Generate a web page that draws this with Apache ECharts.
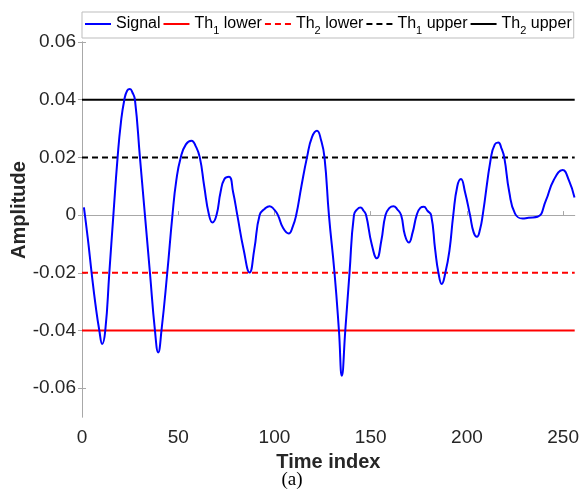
<!DOCTYPE html>
<html>
<head>
<meta charset="utf-8">
<script src="https://cdn.jsdelivr.net/npm/echarts@6/dist/echarts.min.js"></script>
<style>
  html, body { margin: 0; padding: 0; background: #fff; }
  #chart { width: 582px; height: 504px; }
</style>
</head>
<body>
<div id="chart"></div>
<script>
// Signal samples: [time index, amplitude]
const signalPoints = [
  [1, 0.0027], [3, -0.008], [5, -0.020], [7, -0.031], [9, -0.040], [10.5, -0.0447],
  [12.1, -0.040], [14.2, -0.020], [16.3, 0], [18.5, 0.020], [20.2, 0.032], [22, 0.040],
  [23.5, 0.0432], [24.9, 0.0437], [26.2, 0.0425], [27.5, 0.040], [30.1, 0.020], [32.7, 0],
  [35.3, -0.020], [37.9, -0.040], [39.6, -0.0476], [41.3, -0.040], [44.3, -0.020], [47.0, 0],
  [49, 0.012], [51.3, 0.020], [54, 0.0245], [56.9, 0.0258], [59, 0.024], [61.2, 0.020],
  [63.5, 0.010], [66, 0], [67.8, -0.0026], [69.9, 0], [72, 0.008], [74, 0.0125],
  [76.4, 0.0133], [78.5, 0.008], [80.7, 0], [84, -0.012], [87.1, -0.0199], [89.5, -0.012],
  [92.3, 0], [95, 0.0022], [97.5, 0.0031], [100, 0.0018], [101.8, 0], [104.5, -0.0045],
  [107.4, -0.0064], [109.5, -0.004], [111.3, 0], [114, 0.010], [116.9, 0.020], [119.5, 0.027],
  [122.1, 0.0292], [124.2, 0.026], [126.0, 0.020], [128.3, 0], [131.2, -0.020], [133.5, -0.040],
  [135.0, -0.0557], [136.8, -0.040], [139.0, -0.020], [141.3, 0], [143, 0.002], [144.7, 0.0026],
  [146.3, 0.0015], [147.6, 0], [150.5, -0.010], [153.2, -0.015], [155.5, -0.009], [157.7, 0],
  [159.8, 0.0025], [161.8, 0.0031], [163.8, 0.002], [165.8, 0], [167.8, -0.007], [169.8, -0.0095],
  [171.8, -0.006], [173.9, 0], [175.8, 0.0025], [177.6, 0.0029], [179.5, 0.0015], [181.4, 0],
  [183.5, -0.012], [185.2, -0.020], [186.9, -0.0239], [188.8, -0.020], [190.9, -0.0124], [192.9, 0],
  [195, 0.010], [196.9, 0.0125], [199, 0.008], [201.6, 0], [203.5, -0.006], [205.2, -0.0075],
  [206.8, -0.005], [208.2, 0], [212.5, 0.020], [214.5, 0.0245], [216.3, 0.0252], [218, 0.023],
  [219.4, 0.020], [222, 0.008], [225, 0.0005], [228.9, -0.0012], [232, -0.0009], [236.7, -0.0006],
  [241, 0.005], [245, 0.012], [249.7, 0.0156], [253, 0.012], [255.9, 0.0061]
];

// Threshold levels
const th1Lower = -0.02;
const th2Lower = -0.04;
const th1Upper = 0.02;
const th2Upper = 0.04;

// Axis ranges and ticks
const xRange = [0, 256];
const yRange = [-0.07, 0.06];
const xTicks = [0, 50, 100, 150, 200, 250];
const yTicks = [-0.06, -0.04, -0.02, 0, 0.02, 0.04, 0.06];

const seriesNames = ['Signal', 'Th1 lower', 'Th2 lower', 'Th1 upper', 'Th2 upper'];

const FONT = 'Liberation Sans, Arial, sans-serif';
const AXIS_GRAY = '#a8a8a8';
const TEXT = '#262626';

function hLine(level) {
  return [[xRange[0], level], [xRange[1], level]];
}

function thresholdSeries(name, level, color, dashed) {
  return {
    name: name,
    type: 'line',
    data: hLine(level),
    symbol: 'none',
    silent: true,
    lineStyle: { color: color, width: 2, type: dashed ? [6, 4] : 'solid' },
    itemStyle: { color: color },
    z: 2
  };
}

const chart = echarts.init(document.getElementById('chart'), null, { renderer: 'canvas' });

chart.setOption({
  animation: false,
  backgroundColor: '#ffffff',
  grid: { left: 82, right: 6, top: 42, bottom: 87, containLabel: false },
  legend: {
    data: seriesNames,
    left: 82,
    top: 12,
    orient: 'horizontal',
    itemWidth: 26,
    itemHeight: 14,
    itemGap: 2,
    padding: [4, 2, 2, 2],
    borderColor: '#bdbdbd',
    borderWidth: 1,
    backgroundColor: '#ffffff',
    selectedMode: false,
    itemStyle: { opacity: 0 },
    formatter: function (name) {
      const m = name.match(/^Th(\d) (.*)$/);
      if (!m) return '{n|' + name + '}';
      return '{n|Th}{s|' + m[1] + '}{n| ' + m[2] + '}';
    },
    textStyle: {
      fontFamily: FONT,
      fontSize: 16,
      color: '#000',
      rich: {
        n: { fontFamily: FONT, fontSize: 16, color: '#000', lineHeight: 24, verticalAlign: 'middle' },
        s: { fontFamily: FONT, fontSize: 11, color: '#000', lineHeight: 24, verticalAlign: 'bottom' }
      }
    }
  },
  xAxis: [{
    type: 'value',
    min: xRange[0],
    max: xRange[1],
    name: 'Time index',
    nameLocation: 'middle',
    nameGap: 35,
    nameTextStyle: { fontFamily: FONT, fontSize: 20, fontWeight: 'bold', color: TEXT },
    axisLine: { show: true, lineStyle: { color: AXIS_GRAY, width: 1 } },
    axisTick: { show: true, inside: true, length: 4, lineStyle: { color: AXIS_GRAY }, customValues: xTicks },
    axisLabel: { fontFamily: FONT, fontSize: 19, color: TEXT, margin: 11, customValues: xTicks },
    splitLine: { show: false }
  }, {
    type: 'value',
    position: 'top',
    min: xRange[0],
    max: xRange[1],
    axisLine: { show: true, lineStyle: { color: AXIS_GRAY, width: 1 } },
    axisTick: { show: false },
    axisLabel: { show: false },
    splitLine: { show: false }
  }],
  yAxis: [{
    type: 'value',
    min: yRange[0],
    max: yRange[1],
    axisLine: { show: true, lineStyle: { color: AXIS_GRAY, width: 1 } },
    axisTick: { show: true, inside: true, length: 4, lineStyle: { color: AXIS_GRAY }, customValues: yTicks },
    axisLabel: { fontFamily: FONT, fontSize: 19, color: TEXT, margin: 6, customValues: yTicks },
    splitLine: { show: false }
  }, {
    type: 'value',
    position: 'right',
    min: yRange[0],
    max: yRange[1],
    axisLine: { show: true, lineStyle: { color: AXIS_GRAY, width: 1 } },
    axisTick: { show: true, inside: true, length: 4, lineStyle: { color: AXIS_GRAY }, customValues: yTicks },
    axisLabel: { show: false },
    splitLine: { show: false }
  }],
  graphic: [{
    type: 'text',
    x: 19,
    y: 210,
    rotation: Math.PI / 2,
    style: {
      text: 'Amplitude',
      fontFamily: FONT,
      fontSize: 20,
      fontWeight: 'bold',
      fill: TEXT,
      align: 'center',
      verticalAlign: 'middle'
    }
  }, {
    type: 'text',
    x: 292,
    y: 480,
    style: {
      text: '(a)',
      fontFamily: 'Liberation Serif, Times New Roman, serif',
      fontSize: 19,
      fill: '#000',
      align: 'center',
      verticalAlign: 'middle'
    }
  }],
  series: [
    {
      name: 'Signal',
      type: 'line',
      data: signalPoints,
      symbol: 'none',
      smooth: 0.5,
      lineStyle: { color: '#0000ff', width: 2 },
      itemStyle: { color: '#0000ff' },
      z: 3
    },
    thresholdSeries('Th1 lower', th2Lower, '#ff0000', false),
    thresholdSeries('Th2 lower', th1Lower, '#ff0000', true),
    thresholdSeries('Th1 upper', th1Upper, '#000000', true),
    thresholdSeries('Th2 upper', th2Upper, '#000000', false)
  ]
});
</script>
</body>
</html>
